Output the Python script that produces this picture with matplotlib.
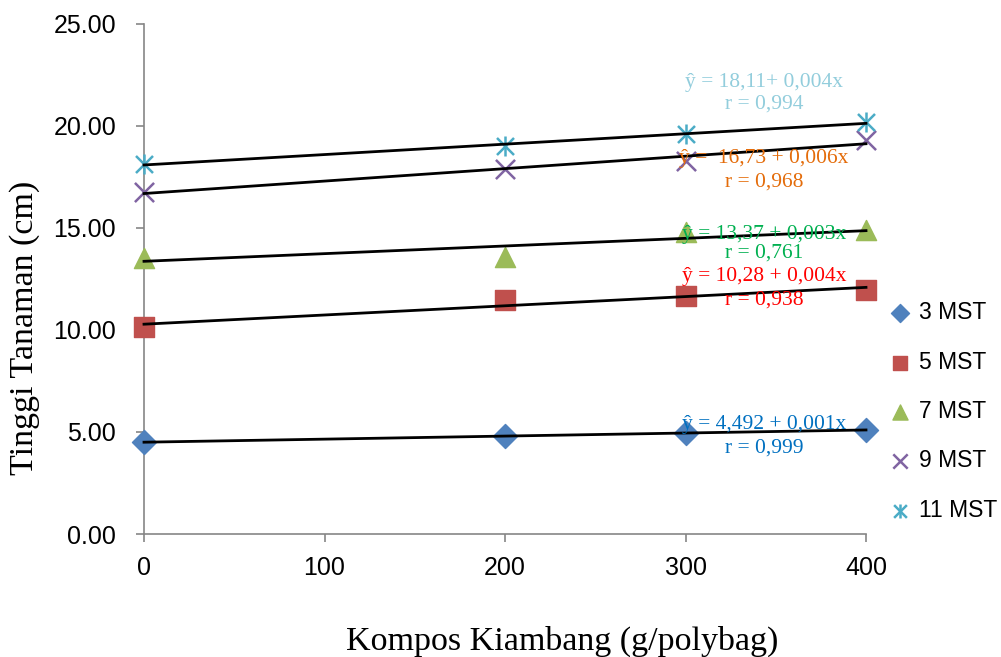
import matplotlib.pyplot as plt
import numpy as np

dosis = [0, 200, 300, 400]
mst_3 = [4.50, 4.80, 4.95, 5.10]
mst_5 = [10.15, 11.45, 11.65, 11.95]
mst_7 = [13.55, 13.60, 14.80, 14.90]
mst_9 = [16.75, 17.90, 18.30, 19.30]
mst_11 = [18.15, 19.00, 19.60, 20.20]

labels = ["3 MST", "5 MST", "7 MST", "9 MST", "11 MST"]
persamaan = [
    ("ŷ = 4,492 + 0,001x", "r = 0,999"),
    ("ŷ = 10,28 + 0,004x", "r = 0,938"),
    ("ŷ = 13,37 + 0,003x", "r = 0,761"),
    ("ŷ =  16,73 + 0,006x", "r = 0,968"),
    ("ŷ = 18,11+ 0,004x", "r = 0,994"),
]

series = [mst_3, mst_5, mst_7, mst_9, mst_11]
markers = ["D", "s", "^", "x", "asterisk"]
colors = ["#4F81BD", "#C0504D", "#9BBB59", "#8064A2", "#4BACC6"]
text_colors = ["#0070C0", "#FF0000", "#00B050", "#E46C0A", "#92CDDC"]
text_y = [(425, 448), (276, 300), (234, 253), (158, 182), (83, 104)]

sans = ["Liberation Sans", "DejaVu Sans"]
serif = ["Liberation Serif", "DejaVu Serif"]

fig = plt.figure(figsize=(10.01, 6.57), dpi=100)
ax = fig.add_axes([144 / 1001, 1 - 534 / 657, (866 - 144) / 1001, (534 - 24) / 657])

x = np.array(dosis)
handles = []
for y, lab, m, c in zip(series, labels, markers, colors):
    if m == "asterisk":
        # asterisk = x plus a vertical bar
        h1 = ax.scatter(x, y, marker="x", s=150, color=c, linewidths=1.8,
                        zorder=3, clip_on=False)
        h2 = ax.scatter(x, y, marker="|", s=190, color=c, linewidths=1.8,
                        zorder=3, clip_on=False)
        handles.append((h1, h2))
    elif m == "x":
        handles.append(ax.scatter(x, y, marker="x", s=190, color=c,
                                  linewidths=1.8, zorder=3, clip_on=False))
    else:
        size = {"D": 150, "s": 190, "^": 210}[m]
        handles.append(ax.scatter(x, y, marker=m, s=size, color=c, zorder=3,
                                  clip_on=False))
    b, a = np.polyfit(x, y, 1)
    ax.plot([x[0], x[-1]], [a, a + b * x[-1]], color="black", lw=2, zorder=4,
            clip_on=False)

# regression labels
for (eq, r), c, (y1, y2) in zip(persamaan, text_colors, text_y):
    fig.text(764 / 1001, 1 - y1 / 657, eq, color=c, family=serif, fontsize=15.5,
             ha="center", va="center", zorder=5)
    fig.text(764 / 1001, 1 - y2 / 657, r, color=c, family=serif, fontsize=15.5,
             ha="center", va="center", zorder=5)

ax.set_xlim(0, 400)
ax.set_ylim(0, 25)
ax.set_xticks([0, 100, 200, 300, 400])
ax.set_yticks([0, 5, 10, 15, 20, 25])
ax.set_yticklabels([f"{v:.2f}" for v in [0, 5, 10, 15, 20, 25]])
for s in ["top", "right"]:
    ax.spines[s].set_visible(False)
for s in ["left", "bottom"]:
    ax.spines[s].set_color("#868686")
    ax.spines[s].set_linewidth(1.2)
ax.tick_params(direction="out", length=6, width=1.2, color="#868686",
               labelsize=18, labelcolor="black")
ax.tick_params(axis="y", pad=14)
ax.tick_params(axis="x", pad=10)
for t in ax.get_xticklabels() + ax.get_yticklabels():
    t.set_family(sans)

fig.text(25 / 1001, 1 - 328 / 657, "Tinggi Tanaman (cm)", family=serif,
         fontsize=24.5, rotation=90, ha="center", va="center")
fig.text(562 / 1001, 1 - 650 / 657, "Kompos Kiambang (g/polybag)", family=serif,
         fontsize=24.5, ha="center", va="baseline")

leg = ax.legend(handles, labels, loc="center left", bbox_to_anchor=(1.015, 0.24),
                frameon=False, prop={"family": sans, "size": 16.5},
                handletextpad=0.25, labelspacing=1.15, handlelength=1.2,
                borderaxespad=0, markerscale=0.75)

fig.savefig("out.png", dpi=100)
